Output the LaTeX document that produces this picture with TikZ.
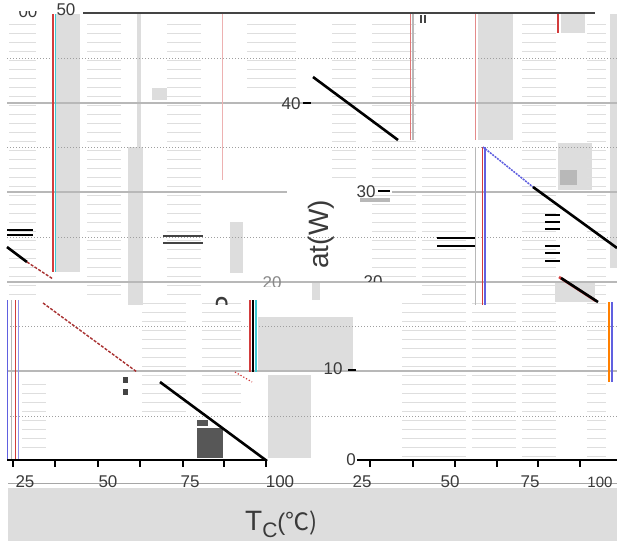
\documentclass[tikz,border=0pt]{standalone}
\usepackage{fontspec}
\setmainfont{Liberation Sans}
\newfontfamily\cjk{Noto Sans CJK SC}
\definecolor{lg}{HTML}{DDDDDD}
\definecolor{mg}{HTML}{B8B8B8}
\definecolor{dg}{HTML}{444444}
\definecolor{txt}{HTML}{3A3A3A}
\definecolor{glred}{HTML}{D23C3C}
\definecolor{glcyan}{HTML}{3CC8D2}
\definecolor{glblue}{HTML}{6060E0}
\definecolor{tex}{HTML}{DEDEDE}
\begin{document}
\begin{tikzpicture}[x=1pt,y=-1pt,
  lab/.style={text=txt,inner sep=0pt,font=\fontsize{17}{17}\selectfont},
  grid/.style={draw=mg,line width=1.6pt},
  dots/.style={draw=gray!75,line width=1pt,dotted},
  curve/.style={draw=black,line width=2.6pt},
  glitch/.style={draw=glred!80!black,line width=1.4pt,dashed,dash pattern=on 3pt off 1.5pt},
  texline/.style={draw=tex,line width=1pt},
  tick/.style={draw=black,line width=1.8pt}]
\useasboundingbox (0,0) rectangle (617,541);
\fill[white] (0,0) rectangle (617,541);

% ---- light gray bands
\fill[lg] (55,14) rectangle (80,272);
\fill[lg] (137,14) rectangle (141,147);
\fill[lg] (128,147) rectangle (143,305);
\fill[lg] (152,88) rectangle (167,100);
\fill[lg] (230,222) rectangle (243,273);
\fill[lg] (258,317) rectangle (353,370);
\fill[lg] (268,375) rectangle (311,458);
\fill[lg] (478,14) rectangle (513,140);
\fill[lg] (561,14) rectangle (585,33);
\fill[lg] (558,143) rectangle (592,190);
\fill[lg] (555,282) rectangle (595,302);
\fill[lg] (610,14) rectangle (617,268);
\fill[lg] (312,282) rectangle (320,300);
\fill[mg] (560,170) rectangle (577,185);
\fill[mg] (360,198) rectangle (390,202);

% ---- texture of faint table rows
\foreach \xa/\xb/\ya/\yb in {7/40/20/300, 85/125/20/300, 165/205/20/300, 245/300/20/90,
   370/420/20/280, 420/470/150/460, 520/560/20/460, 585/610/20/460, 140/190/300/415,
   400/440/300/460, 330/360/20/180, 20/50/380/455, 470/520/300/455, 200/245/300/410}{
  \begin{scope}
    \clip (\xa,\ya) rectangle (\xb,\yb);
    \foreach \y in {6,15,...,540}{\draw[texline] (\xa+2,\y) -- (\xb-4,\y);}
  \end{scope}
}

% ---- dotted grid (half-steps)
\foreach \y in {58,147,237,326,416}{\draw[dots] (7,\y) -- (617,\y);}
% ---- solid grid lines
\draw[grid] (7,103) -- (617,103);
\draw[grid] (7,192) -- (287,192);
\draw[grid] (392,192) -- (617,192);
\draw[grid] (7,282) -- (617,282);
\draw[grid] (7,371) -- (617,371);

% ---- glitch verticals
\draw[glred,line width=1.5pt] (53,14) -- (53,272);
\draw[glcyan,line width=1pt] (55,14) -- (55,272);
\draw[glred!40,line width=1pt] (222,14) -- (222,180);
\draw[glred!70,line width=1pt] (410,14) -- (410,140);
\draw[mg,line width=1.5pt] (413,14) -- (413,140);
\draw[glred!60,line width=1pt] (475,14) -- (475,140);
\draw[glred,line width=1.5pt] (558,14) -- (558,33);
\draw[mg,line width=1pt] (475,147) -- (475,305);
\draw[glred,line width=1pt] (482,147) -- (482,305);
\draw[glblue,line width=1.5pt] (485,147) -- (485,305);
\draw[glblue,line width=1pt] (7,300) -- (7,460);
\draw[mg,line width=1pt] (11,300) -- (11,460);
\draw[glred,line width=1pt] (15,300) -- (15,460);
\draw[glblue!70,line width=1pt] (18,300) -- (18,460);
\draw[glred,line width=1.2pt] (250,300) -- (250,372);
\draw[black,line width=2.5pt] (253,300) -- (253,372);
\draw[glcyan,line width=1.2pt] (256,300) -- (256,372);
\draw[orange,line width=1.5pt] (609,302) -- (609,382);
\draw[glblue,line width=1.2pt] (612,302) -- (612,382);
\draw[dg,line width=1.2pt] (421,15) -- (421,23);
\draw[dg,line width=1.2pt] (425,15) -- (425,23);

% ---- dark bars
\foreach \y in {215,222,229,246,253,261}{\draw[black,line width=2pt] (545,\y) -- (560,\y);}
\draw[black,line width=2pt] (437,238) -- (475,238);
\draw[black,line width=2pt] (437,246) -- (475,246);
\draw[dg,line width=1.5pt] (163,236) -- (203,236);
\draw[dg,line width=1.5pt] (163,243) -- (203,243);
\draw[black,line width=1.5pt] (7,230) -- (33,230);
\draw[black,line width=1.5pt] (7,235) -- (33,235);
\fill[dg] (123,377) rectangle (128,383);
\fill[dg] (123,389) rectangle (128,395);

% ---- dark block
\fill[dg!90] (197,420) rectangle (208,426);
\fill[dg!90] (197,428) rectangle (223,458);

% ---- top axis line
\draw[dg,line width=2pt] (83,13) -- (595,13);

% ---- x axes with ticks
\draw[black,line width=2pt] (7,460) -- (267,460);
\draw[black,line width=2pt] (358,460) -- (617,460);
\foreach \x in {13,55,98,140,183,224,266,370,413,455,497,538,580}{\draw[tick] (\x,460) -- (\x,467);}

% ---- derating line fragments
\draw[curve] (313,77) -- (398,140);
\draw[glblue,line width=1.5pt,dashed,dash pattern=on 2pt off 1pt] (483,147) -- (533,187);
\draw[curve] (533,187) -- (617,248);
\draw[glred,line width=2.6pt] (559,277) -- (596,301);
\draw[curve] (561,278) -- (598,302);
\draw[curve] (7,247) -- (27,262);
\draw[glitch] (27,262) -- (53,279);
\draw[glitch] (43,303) -- (137,372);
\draw[glred,line width=1.2pt,dotted] (235,372) -- (252,382);
\draw[curve] (160,382) -- (267,461);

% ---- x label strike line and bottom band
\draw[gray!70,line width=0.9pt] (8,483) -- (617,483);
\fill[lg] (8,488) rectangle (617,541);

% ---- y labels
\begin{scope}
  \clip (0,11) rectangle (60,18);
  \node[lab,anchor=base] (y60) at (28,17) {00};
\end{scope}
\node[lab,anchor=base] (y50) at (66,15) {50};
\node[lab,anchor=base] (y40) at (291,109) {40};
\draw[tick] (303,103) -- (311,103);
\node[lab,anchor=base] (y30) at (366,197) {30};
\draw[tick] (378,191) -- (390,191);
\begin{scope}
  \clip (250,270) rectangle (300,286);
  \node[lab,anchor=base,text=txt!60] (y20a) at (272,288) {20};
\end{scope}
\begin{scope}
  \clip (355,268) rectangle (395,281);
  \node[lab,anchor=base] (y20) at (373,287) {20};
\end{scope}
\node[lab,anchor=base] (y10) at (333,374) {10};
\draw[tick] (348,370) -- (356,370);
\node[lab,anchor=base] (y0) at (351,465) {0};
\draw[tick] (357,460) -- (365,460);

% ---- x labels
\node[lab] (x25a) at (25,482) {25};
\node[lab] (x50a) at (108,482) {50};
\node[lab] (x75a) at (190,482) {75};
\node[lab] (x100a) at (280,482) {100};
\node[lab] (x25b) at (362,482) {25};
\node[lab] (x50b) at (450,482) {50};
\node[lab] (x75b) at (530,482) {75};
\node[lab,font=\fontsize{15}{15}\selectfont] (x100b) at (600,482) {100};

% ---- y axis title fragments
\node[text=txt,inner sep=0pt,rotate=90,anchor=east,font=\fontsize{28}{28}\selectfont] (ytitle) at (321,200) {at(W)};
\begin{scope}
  \clip (210,285) rectangle (240,304);
  \node[text=txt,inner sep=0pt,rotate=90,font=\fontsize{28}{28}\selectfont] (yP) at (226,305) {P};
\end{scope}

% ---- x axis title
\node[text=txt,inner sep=0pt,anchor=base west] (xtitle) at (245,530)
  {\fontsize{28}{28}\selectfont T\raisebox{-7pt}{\fontsize{21}{21}\selectfont C}\fontsize{24}{24}\selectfont(\cjk{℃})};
\end{tikzpicture}
\end{document}
